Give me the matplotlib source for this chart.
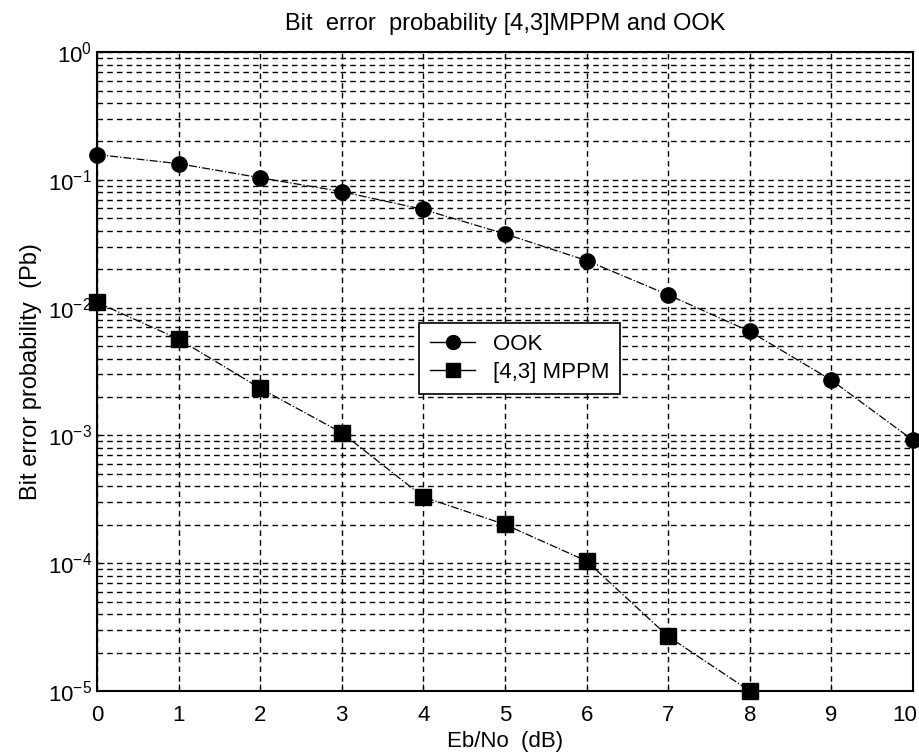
import numpy as np
import matplotlib
matplotlib.use("Agg")
import matplotlib.pyplot as plt
import matplotlib.transforms as mtransforms
from matplotlib.lines import Line2D

plt.rcParams['font.family'] = ['Liberation Sans Narrow', 'Liberation Sans', 'DejaVu Sans']
plt.rcParams['mathtext.default'] = 'regular'

# Eb/No in dB
ebno = [0, 1, 2, 3, 4, 5, 6, 7, 8, 9, 10]
ebno_mppm = [0, 1, 2, 3, 4, 5, 6, 7, 8]

# bit error probability
pb_ook = [0.158, 0.134, 0.104, 0.081, 0.0587, 0.0378, 0.0234, 0.0126, 0.00652, 0.00271, 0.000917]
pb_mppm = [0.0110, 0.00568, 0.00234, 0.00105, 3.3e-4, 2.01e-4, 1.04e-4, 2.67e-5, 1.0e-5]

fig = plt.figure(figsize=(9.19, 7.56), dpi=100)
ax = fig.add_axes([0.1055, 0.086, 0.888, 0.845])

ax.semilogy(ebno, pb_ook, color='k', linestyle='-.', linewidth=0.9,
            marker='o', markersize=11, markerfacecolor='k', clip_on=False, zorder=3)
ax.semilogy(ebno_mppm, pb_mppm, color='k', linestyle='-.', linewidth=0.9,
            marker='s', markersize=11, markerfacecolor='k', clip_on=False, zorder=3)

ax.set_xlim(0, 10)
ax.set_ylim(1e-5, 1e0)
ax.set_xticks(range(0, 11))
ax.grid(True, which='major', color='k', linestyle=(0, (4, 3)), linewidth=1.0)
ax.grid(True, which='minor', axis='y', color='k', linestyle=(0, (4, 3)), linewidth=1.0)
ax.tick_params(which='both', direction='in', labelsize=16, length=5)
ax.tick_params(which='minor', length=3)
ax.tick_params(axis='x', pad=10)
for s in ax.spines.values():
    s.set_linewidth(1.5)

# keep the "10" label inside the figure
fig.canvas.draw()
last = ax.get_xticklabels()[-1]
last.set_transform(last.get_transform() + mtransforms.ScaledTranslation(-8 / 100, 0, fig.dpi_scale_trans))

ax.set_title('Bit  error  probability [4,3]MPPM and OOK', fontsize=17, pad=16)
ax.set_xlabel('Eb/No  (dB)', fontsize=16, labelpad=4)
ax.set_ylabel('Bit error probability  (Pb)', fontsize=17, labelpad=4)

handles = [Line2D([], [], color='k', marker='o', markersize=10, linewidth=1.0),
           Line2D([], [], color='k', marker='s', markersize=10, linewidth=1.0)]
leg = ax.legend(handles, ['OOK', '[4,3] MPPM'], loc='upper left',
                bbox_to_anchor=(0.395, 0.576), borderaxespad=0, fontsize=16,
                frameon=True, fancybox=False, edgecolor='k', framealpha=1,
                handlelength=2.0, borderpad=0.5, labelspacing=0.3)
leg.get_frame().set_linewidth(1.2)

fig.savefig('out.png', dpi=100)
